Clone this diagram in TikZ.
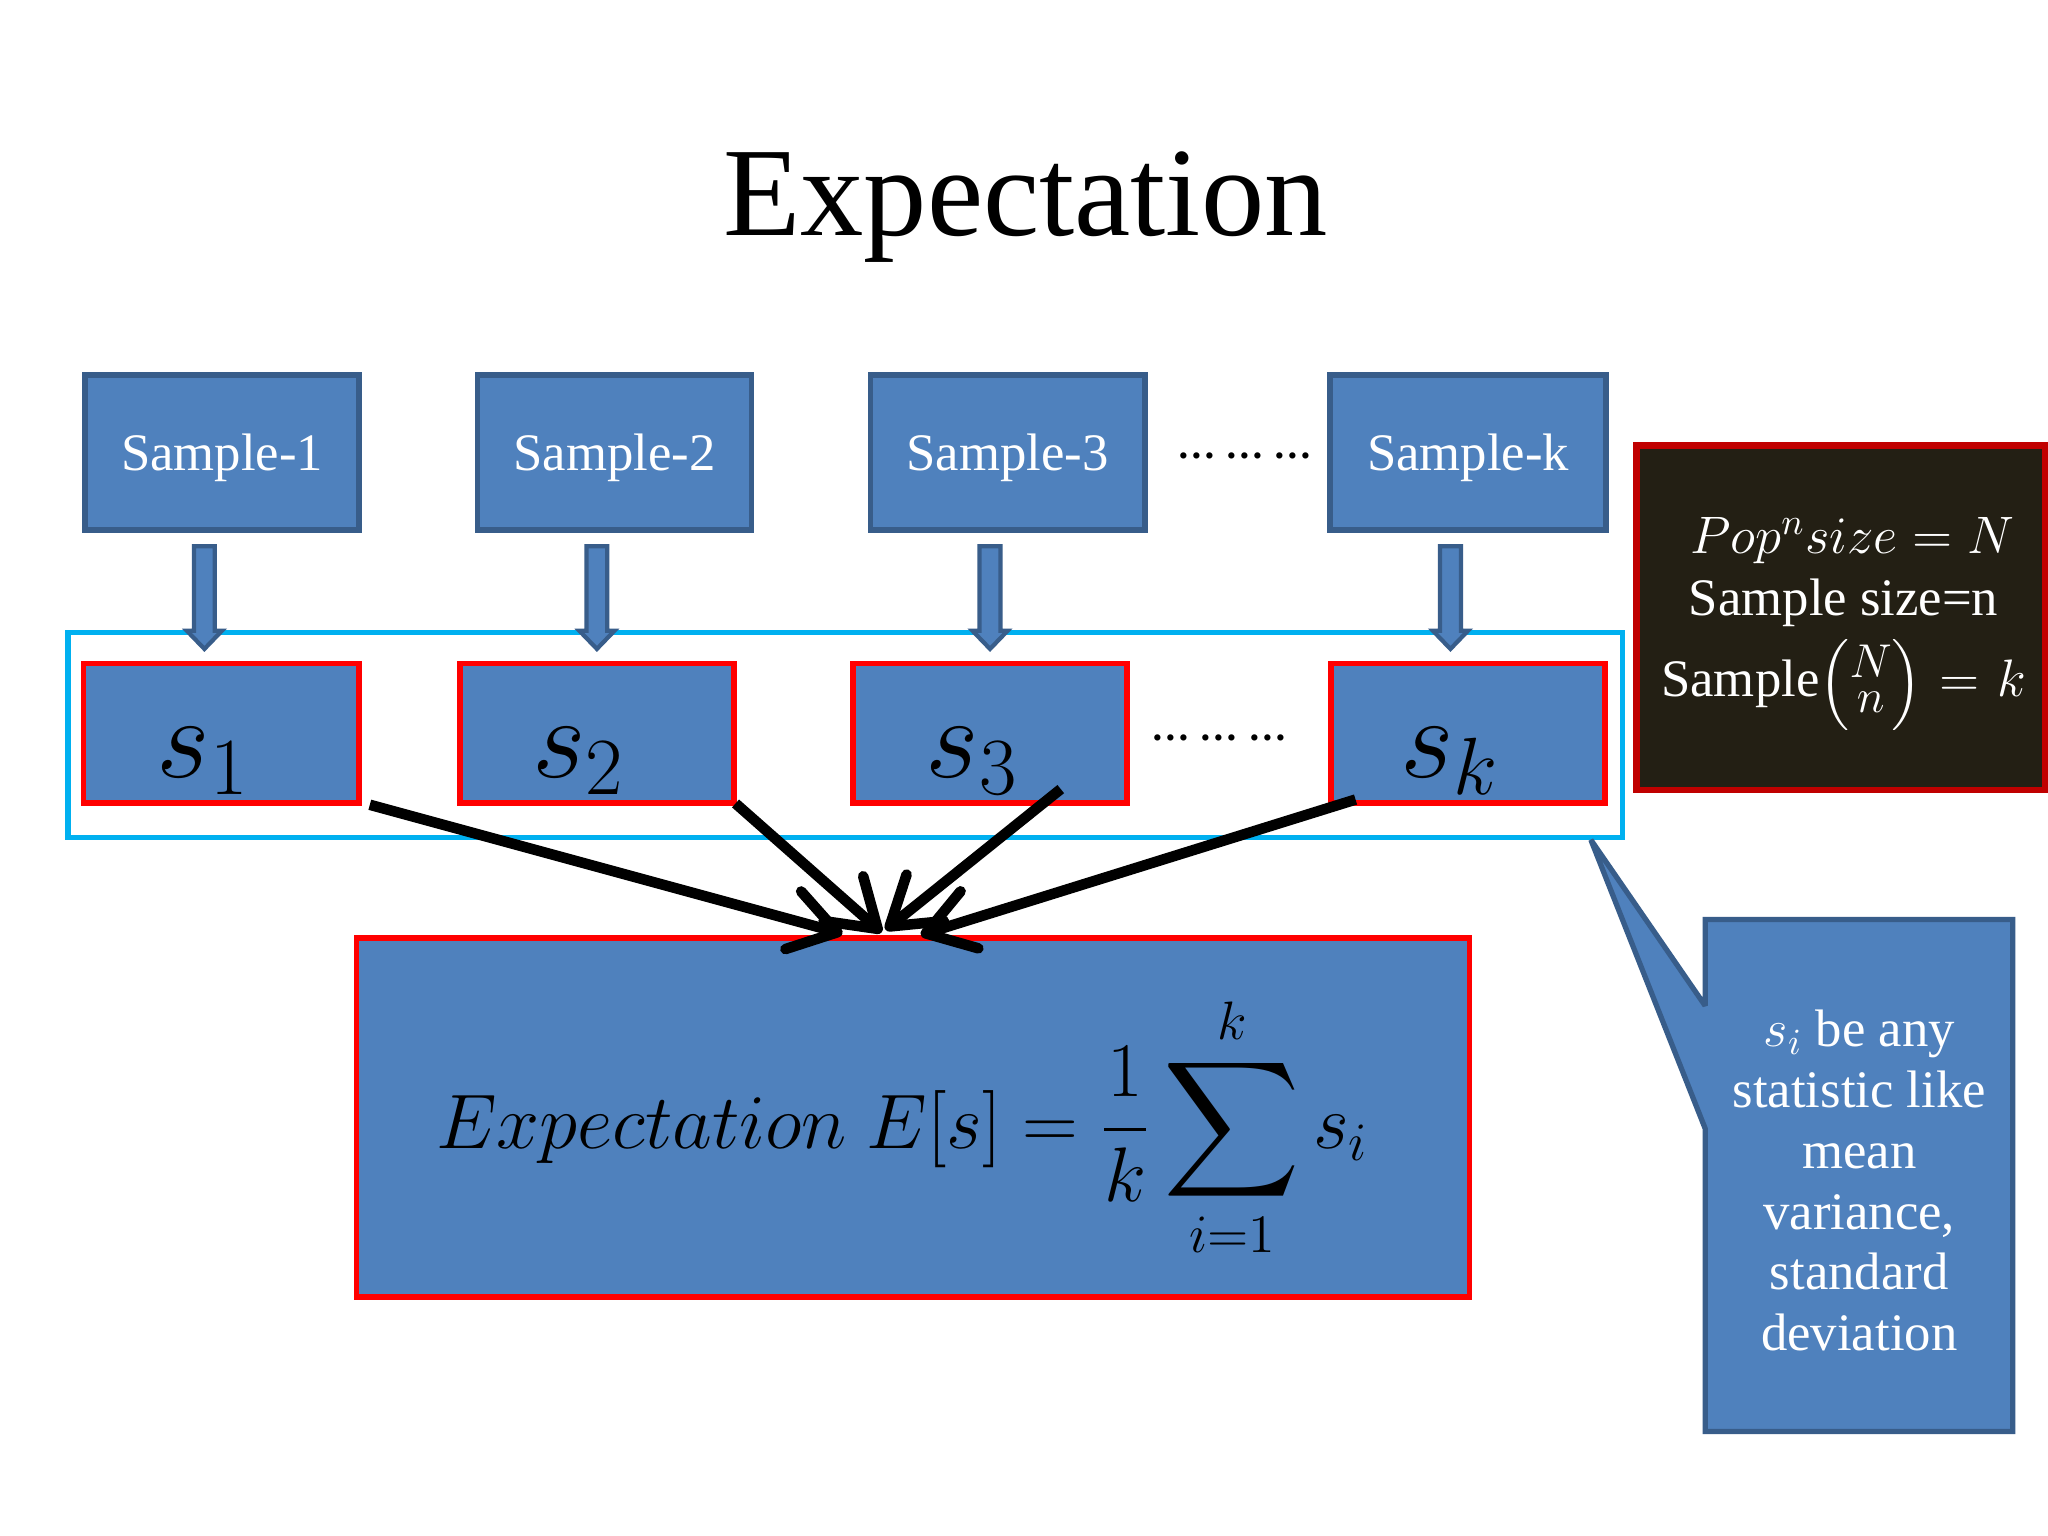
\RequirePackage{fix-cm}
\documentclass[tikz,border=0pt]{standalone}
\usepackage{amsmath}
\usepackage{graphicx}
\usepackage{fontspec}
\setmainfont{Liberation Serif}
\usetikzlibrary{calc,arrows.meta}
\newcommand\uu{0.013061cm}
\definecolor{blu}{HTML}{4F81BD}
\definecolor{bdr}{HTML}{385D8A}
\definecolor{cyn}{HTML}{00B0F0}
\definecolor{blk}{HTML}{231F14}
\definecolor{dred}{HTML}{C00000}
\tikzset{
  smpbox/.style={draw=bdr, fill=blu, line width=1.6pt, minimum width=210*\uu, minimum height=119*\uu,
    inner sep=0pt, text=white, font=\fontsize{15}{18}\selectfont, text height=11pt, text depth=0.6pt},
  sbox/.style={draw=red, fill=blu, line width=1.6pt, minimum width=210*\uu, minimum height=107*\uu, inner sep=0pt},
  slabel/.style={anchor=base, inner sep=0pt, font=\fontsize{33}{36}\selectfont},
  grpbox/.style={draw=cyn, line width=1.5pt, minimum width=1190*\uu, minimum height=157*\uu, inner sep=0pt},
  barrow/.style={draw=bdr, fill=blu, line width=1.2pt, line join=miter},
  conn/.style={line width=3pt, -{Straight Barb[length=13pt,width=17pt,line cap=round,line join=round]}},
  dots/.style={anchor=base, inner sep=0pt, font=\fontsize{11}{12}\selectfont\bfseries},
  infotext/.style={anchor=base, inner sep=0pt, text=white, font=\fontsize{15}{18}\selectfont},
  callout/.style={draw=bdr, fill=blu, line width=1.5pt, miter limit=3},
}
\begin{document}
\begin{tikzpicture}[x=\uu, y=-\uu]
\useasboundingbox (0,0) rectangle (1568,1176);
\fill[white] (0,0) rectangle (1568,1176);

% title
\node[anchor=base, inner sep=0pt, font=\fontsize{36}{40}\selectfont] (title) at (785,180) {Expectation};

% sample boxes
\node[smpbox] (smp1) at (170,346.5) {Sample-1};
\node[smpbox] (smp2) at (470.5,346.5) {Sample-2};
\node[smpbox] (smp3) at (771.5,346.5) {Sample-3};
\node[smpbox, minimum width=211*\uu] (smpk) at (1124,346.5) {Sample-k};
\node[dots] (dots1) at (953,351) {… … …};

% group box
\node[grpbox] (grp) at (647,562.5) {};

% statistic boxes
\node[sbox, minimum width=211*\uu] (s1) at (169.5,561.5) {};
\node[sbox] (s2) at (457,561.5) {};
\node[sbox] (s3) at (758,561.5) {};
\node[sbox] (sk) at (1124,561.5) {};
\node[slabel] (s1t) at ($(s1.center)+(-14,33.5)$) {$s_1$};
\node[slabel] (s2t) at ($(s2.center)+(-14,33.5)$) {$s_2$};
\node[slabel] (s3t) at ($(s3.center)+(-14,33.5)$) {$s_3$};
\node[slabel] (skt) at ($(sk.center)+(-14,33.5)$) {$s_k$};
\node[dots] (dots2) at (933.5,567) {… … …};

% block arrows
\foreach \a/\b in {smp1/s1, smp2/s2, smp3/s3, smpk/sk} {
  \coordinate (t\b) at ($(\a.south)+(-13.5,10)$);
  \coordinate (h\b) at ($(t\b |- \b.north)+(0,-9)$);
  \draw[barrow] ($(t\b)+(-8,0)$) -- ($(t\b)+(8,0)$) -- ($(h\b)+(8,-14)$) -- ($(h\b)+(13.5,-14)$)
     -- (h\b) -- ($(h\b)+(-13.5,-14)$) -- ($(h\b)+(-8,-14)$) -- cycle;
}

% expectation box
\node[draw=red, fill=blu, line width=1.6pt, minimum width=852*\uu, minimum height=275*\uu, inner sep=0pt] (big) at (699,855.5) {};
\node[inner sep=0pt, font=\fontsize{22}{26}\selectfont] (eq) at (691,863)
  {$\displaystyle Expectation\ E[s] = \frac{1}{k}\mathop{\vcenter{\hbox{\scalebox{1.3}{$\displaystyle\sum$}}}}\limits_{i=1}^{k} s_i$};

% connectors
\draw[conn] ($(s1.south east)+(6,-1)$) -- ($(big.north)+(-54,-1)$);
\draw[conn] ($(s2.south east)+(-1,-2)$) -- ($(big.north)+(-24,-2)$);
\draw[conn] ($(s3.south east)+(-53,-13)$) -- ($(big.north)+(-21,-4)$);
\draw[conn] ($(sk.south west)+(21,-5)$) -- ($(big.north)+(6,0)$);

% info box
\node[draw=dred, fill=blk, line width=1.8pt, minimum width=313*\uu, minimum height=264*\uu, inner sep=0pt] (info) at (1409.5,473) {};
\node[infotext] (l1) at (1418,423.6) {$Pop^n size = N$};
\node[infotext] (l2) at (1411.5,471) {Sample size=n};
\node[infotext] (l3) at (1411.5,533.4) {Sample\mbox{\fontsize{13.5}{14}\selectfont$\left(\begin{array}{@{}c@{}}N\\[-4pt] n\end{array}\right)$}\hspace{5pt}$=$\hspace{5pt}$k$};

% callout
\coordinate (ptip) at ($(grp.south east)+(-26,0)$);
\draw[callout] (1305.5,704) -- (1541,704) -- (1541,1096) -- (1305.5,1096) -- (1305.5,864) -- (ptip) -- (1305.5,770) -- cycle;
\node[inner sep=0pt, align=center, text=white, font=\fontsize{15}{17.3}\selectfont] (note) at (1423.5,904)
  {$s_i$ be any\\statistic like\\mean\\variance,\\standard\\deviation};
\end{tikzpicture}
\end{document}
